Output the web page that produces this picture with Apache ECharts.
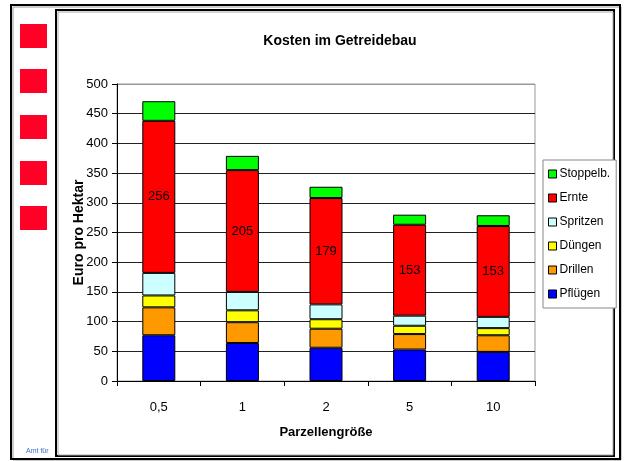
<!DOCTYPE html>
<html>
<head>
<meta charset="utf-8">
<script src="https://cdn.jsdelivr.net/npm/echarts@6/dist/echarts.min.js"></script>
<style>
html, body { margin: 0; padding: 0; background: #fff; }
#main { width: 624px; height: 461px; }
</style>
</head>
<body>
<div id="main"></div>
<script>
// Kosten je Parzellengröße (Euro pro Hektar)
var categories = ['0,5', '1', '2', '5', '10'];
var pfluegen = [77, 64, 56, 53, 49];
var drillen = [47, 35, 32, 26, 28];
var duengen = [20, 20, 16, 14, 12];
var spritzen = [38, 31, 25, 17, 19];
var ernte = [256, 205, 179, 153, 153];
var stoppelb = [33, 24, 19, 17, 18];
var yMin = 0, yMax = 500, yStep = 50;

var font = '"Liberation Sans Narrow", "Liberation Sans", Arial, sans-serif';

function bar(name, data, color, withLabel) {
    return {
        name: name,
        type: 'bar',
        stack: 'kosten',
        data: data,
        barWidth: 33,
        itemStyle: { color: color, borderColor: '#000', borderWidth: 1 },
        label: withLabel
            ? { show: true, position: 'inside', color: '#000', fontSize: 13, fontFamily: font }
            : { show: false },
        emphasis: { disabled: true }
    };
}

// gridlines dark, top one grey like the plot border
var splitColors = [];
for (var v = yMin; v <= yMax; v += yStep) {
    splitColors.push(v === yMax ? '#999' : '#222');
}

// left red squares
var squares = [24, 69, 115, 161, 206].map(function (y) {
    return { type: 'rect', shape: { x: 20, y: y, width: 27, height: 24 }, style: { fill: '#ff0026' }, z: -5 };
});

var myChart = echarts.init(document.getElementById('main'));
myChart.setOption({
    animation: false,
    backgroundColor: '#fff',
    title: {
        text: 'Kosten im Getreidebau',
        left: 335,
        top: 29,
        textAlign: 'center',
        textStyle: { fontFamily: font, fontSize: 14, fontWeight: 'bold', color: '#000' }
    },
    graphic: [
        // outer frame
        { type: 'rect', shape: { x: 13, y: 7, width: 608, height: 453 }, style: { fill: 'none', stroke: '#999', lineWidth: 1 }, z: -10 },
        { type: 'rect', shape: { x: 11, y: 5, width: 609, height: 454 }, style: { fill: 'none', stroke: '#000', lineWidth: 2 }, z: -10 },
        { type: 'text', left: 26, top: 448, style: { text: 'Amt für', fontSize: 7, fontFamily: font, fill: '#3a70d0' }, z: -10 },
        // inner chart frame
        { type: 'rect', shape: { x: 56, y: 10, width: 558, height: 446 }, style: { fill: '#fff', stroke: '#000', lineWidth: 2 }, z: -8 },
        { type: 'rect', shape: { x: 58, y: 12, width: 555, height: 443 }, style: { fill: 'none', stroke: '#aaa', lineWidth: 1 }, z: -8 }
    ].concat(squares),
    legend: {
        orient: 'vertical',
        left: 543,
        top: 160,
        data: ['Stoppelb.', 'Ernte', 'Spritzen', 'Düngen', 'Drillen', 'Pflügen'],
        icon: 'rect',
        itemWidth: 8,
        itemHeight: 8,
        itemGap: 10,
        padding: [7, 6, 7, 5],
        borderColor: '#888',
        borderWidth: 1,
        backgroundColor: '#fff',
        selectedMode: false,
        itemStyle: { borderColor: '#000', borderWidth: 1 },
        textStyle: { fontFamily: font, fontSize: 12, color: '#000', lineHeight: 14, padding: [0, 0, 0, -2] }
    },
    grid: {
        left: 117,
        top: 84,
        right: 89,
        bottom: 80,
        show: true,
        borderColor: '#999',
        borderWidth: 1,
        outerBoundsMode: 'none'
    },
    xAxis: {
        type: 'category',
        data: categories,
        name: 'Parzellengröße',
        nameLocation: 'middle',
        nameGap: 45,
        nameMoveOverlap: false,
        nameTextStyle: { fontFamily: font, fontSize: 13, fontWeight: 'bold', color: '#000' },
        axisLine: { lineStyle: { color: '#000', width: 1 } },
        axisTick: { show: true, alignWithLabel: false, length: 5, lineStyle: { color: '#000' } },
        axisLabel: { margin: 20, fontFamily: font, fontSize: 13, color: '#000' }
    },
    yAxis: {
        type: 'value',
        min: yMin,
        max: yMax,
        interval: yStep,
        name: 'Euro pro Hektar',
        nameLocation: 'middle',
        nameGap: 31,
        nameMoveOverlap: false,
        nameTextStyle: { fontFamily: font, fontSize: 14, fontWeight: 'bold', color: '#000' },
        axisLine: { show: true, lineStyle: { color: '#000', width: 1 } },
        axisTick: { show: true, length: 5, lineStyle: { color: '#000' } },
        axisLabel: { margin: 9, fontFamily: font, fontSize: 13, color: '#000' },
        splitLine: { show: true, lineStyle: { color: splitColors, width: 1 } }
    },
    series: [
        bar('Pflügen', pfluegen, '#0000ff', false),
        bar('Drillen', drillen, '#ff9900', false),
        bar('Düngen', duengen, '#ffff00', false),
        bar('Spritzen', spritzen, '#ccffff', false),
        bar('Ernte', ernte, '#ff0000', true),
        bar('Stoppelb.', stoppelb, '#00ff00', false)
    ]
});
</script>
</body>
</html>
